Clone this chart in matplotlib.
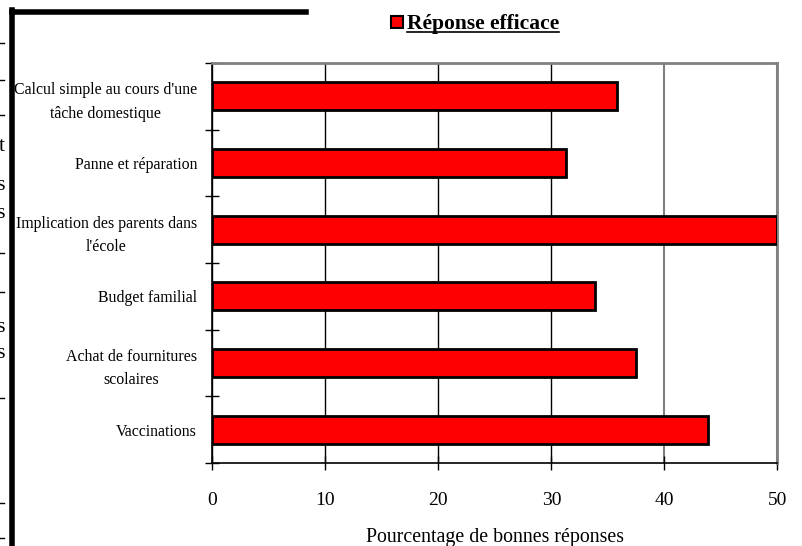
import matplotlib
matplotlib.use('Agg')
import matplotlib.pyplot as plt
from matplotlib.lines import Line2D
from matplotlib.patches import Rectangle

# Pourcentage de réponses efficaces par situation
categories = [
    "Vaccinations",
    "Achat de fournitures\nscolaires",
    "Budget familial",
    "Implication des parents dans\nl'école",
    "Panne et réparation",
    "Calcul simple au cours d'une\ntâche domestique",
]
values = [43.9, 37.5, 33.9, 50.0, 31.3, 35.8]
x_ticks = [0, 10, 20, 30, 40, 50]

SERIF = ['Liberation Serif', 'DejaVu Serif']
plt.rcParams['font.family'] = SERIF

W, H = 803, 546
fig = plt.figure(figsize=(W / 100, H / 100), dpi=100)
ax = fig.add_axes([0.2646, 0.152, 0.7034, 0.7326])

pos = list(range(len(categories)))
ax.barh(pos, values, height=0.42, color='#ff0000', edgecolor='black',
        linewidth=2, zorder=3)

ax.set_xlim(0, 50)
ax.set_ylim(-0.5, len(categories) - 0.5)
ax.set_xticks(x_ticks)
ax.set_xticklabels([str(t) for t in x_ticks], fontsize=14)

# category names centred on the bars, tick marks between them
ax.set_yticks(pos)
ax.set_yticklabels(categories, fontsize=11.4, linespacing=1.6,
                   multialignment='center')
ax.set_yticks([p - 0.5 for p in pos] + [len(categories) - 0.5], minor=True)
ax.tick_params(axis='y', which='major', length=0, pad=11)
ax.tick_params(axis='y', which='minor', direction='inout', length=10,
               width=1, color='black')
ax.tick_params(axis='x', direction='inout', length=10, width=1, pad=16)

ax.xaxis.grid(True, color='black', linewidth=1, zorder=0)
for t, gl in zip(x_ticks, ax.xaxis.get_gridlines()):
    if t >= 40:
        gl.set_color('#808080')
        gl.set_linewidth(1.5)

ax.spines['left'].set_color('black')
ax.spines['bottom'].set_color('black')
ax.spines['left'].set_linewidth(1.2)
ax.spines['bottom'].set_linewidth(1.2)
for s in ('top', 'right'):
    ax.spines[s].set_color('#808080')
    ax.spines[s].set_linewidth(2)

fig.text(ax.get_position().x0 + ax.get_position().width / 2, 1 - 542 / H,
         "Pourcentage de bonnes réponses", fontsize=14.3, ha='center',
         va='baseline')

# légende en haut : carré rouge et libellé souligné
fig.patches.append(Rectangle((391 / W, 1 - 28 / H), 12 / W, 12 / H,
                             transform=fig.transFigure, facecolor='#ff0000',
                             edgecolor='black', linewidth=1.5))
leg = fig.text(407 / W, 1 - 29 / H, "Réponse efficace", fontsize=15.5,
               fontweight='bold', va='baseline', ha='left')
fig.canvas.draw()
bb = leg.get_window_extent()
fig.lines.append(Line2D([bb.x0 / W, bb.x1 / W], [1 - 32 / H] * 2,
                        transform=fig.transFigure, color='black',
                        linewidth=1.2))

# cadre de la page
fig.lines.append(Line2D([12 / W, 306 / W], [1 - 12 / H] * 2,
                        transform=fig.transFigure, color='black', linewidth=4))
fig.lines.append(Line2D([12 / W] * 2, [1 - 10 / H, 0],
                        transform=fig.transFigure, color='black', linewidth=4))
for y in [43, 80, 115, 253, 292, 398, 503, 538]:
    fig.lines.append(Line2D([0, 4 / W], [1 - y / H] * 2,
                            transform=fig.transFigure, color='black',
                            linewidth=1))
for y, s in [(147, "t"), (185, "s"), (214, "s"), (327, "s"), (353, "s")]:
    fig.text(5 / W, 1 - y / H, s, fontsize=16, ha='right', va='center')

fig.savefig("out.png", dpi=100)
